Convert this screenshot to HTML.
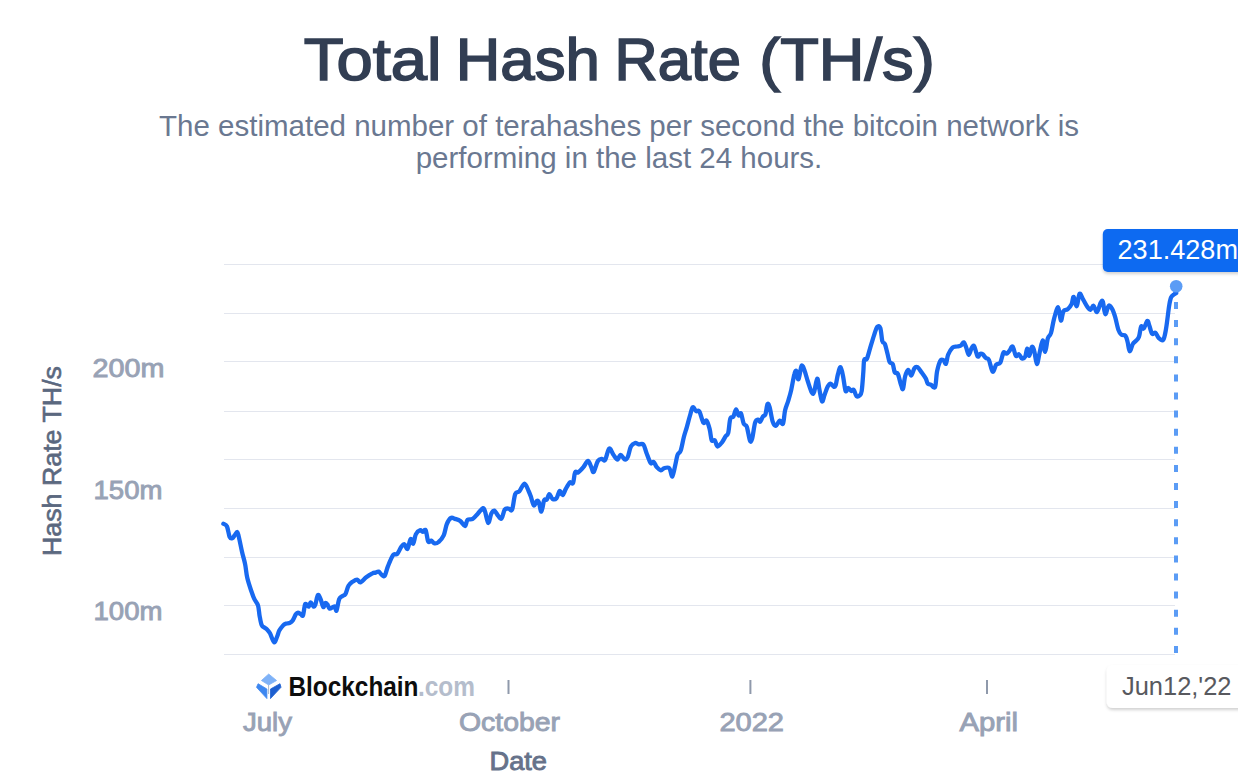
<!DOCTYPE html>
<html><head><meta charset="utf-8">
<style>
html,body{margin:0;padding:0;background:#fff;width:1238px;height:774px;overflow:hidden}
svg{display:block;font-family:"Liberation Sans",sans-serif}
</style></head><body>
<svg width="1238" height="774" viewBox="0 0 1238 774">
<defs>
<filter id="sh" x="-20%" y="-30%" width="140%" height="170%"><feDropShadow dx="0" dy="2" stdDeviation="1.5" flood-color="#000" flood-opacity="0.18"/></filter>
</defs>
<g font-size="60" fill="#323e53" stroke="#323e53" stroke-width="1.6">
<text x="303.8" y="79.8" textLength="137.8" lengthAdjust="spacingAndGlyphs">Total</text>
<text x="455.8" y="79.8" textLength="144" lengthAdjust="spacingAndGlyphs">Hash</text>
<text x="614.6" y="79.8" textLength="126.4" lengthAdjust="spacingAndGlyphs">Rate</text>
<text x="759.2" y="79.8" textLength="175.6" lengthAdjust="spacingAndGlyphs">(TH/s)</text>
</g>
<text x="619" y="135.5" text-anchor="middle" font-size="29.5" fill="#6a7891">The estimated number of terahashes per second the bitcoin network is</text>
<text x="619" y="167.5" text-anchor="middle" font-size="29.5" fill="#6a7891">performing in the last 24 hours.</text>
<g stroke="#e3e6ee" stroke-width="1.2"><line x1="224" y1="264.5" x2="1175" y2="264.5"/><line x1="224" y1="313.5" x2="1175" y2="313.5"/><line x1="224" y1="361.5" x2="1175" y2="361.5"/><line x1="224" y1="411.5" x2="1175" y2="411.5"/><line x1="224" y1="459.5" x2="1175" y2="459.5"/><line x1="224" y1="508.5" x2="1175" y2="508.5"/><line x1="224" y1="557.5" x2="1175" y2="557.5"/><line x1="224" y1="605.5" x2="1175" y2="605.5"/><line x1="224" y1="654.5" x2="1175" y2="654.5"/></g>
<text x="164.5" y="377" font-size="26" fill="#98a2b5" stroke="#98a2b5" stroke-width="0.9" text-anchor="end" textLength="72" lengthAdjust="spacingAndGlyphs">200m</text><text x="162.5" y="498.8" font-size="26" fill="#98a2b5" stroke="#98a2b5" stroke-width="0.9" text-anchor="end" textLength="69" lengthAdjust="spacingAndGlyphs">150m</text><text x="162.5" y="620.3" font-size="26" fill="#98a2b5" stroke="#98a2b5" stroke-width="0.9" text-anchor="end" textLength="69" lengthAdjust="spacingAndGlyphs">100m</text>
<text transform="translate(61,461) rotate(-90)" text-anchor="middle" font-size="25" textLength="190" lengthAdjust="spacingAndGlyphs" fill="#5b687f" stroke="#5b687f" stroke-width="0.6">Hash Rate TH/s</text>
<path d="M223.4,523.8 C224.0,524.2 226.0,524.3 227.0,526.5 C228.0,528.7 228.7,534.8 229.6,536.8 C230.5,538.8 231.4,538.5 232.3,538.2 C233.2,537.9 234.0,536.1 234.8,535.1 C235.6,534.1 236.6,531.6 237.3,532.0 C238.0,532.4 238.1,533.9 238.9,537.2 C239.7,540.5 241.0,547.2 242.0,551.7 C243.0,556.2 244.2,559.8 245.1,564.1 C246.0,568.4 246.2,573.0 247.2,577.5 C248.2,582.0 250.1,587.4 251.3,591.0 C252.5,594.6 253.3,596.8 254.4,599.2 C255.5,601.6 257.1,602.6 258.0,605.4 C258.9,608.2 259.0,612.5 259.6,615.8 C260.2,619.1 260.8,623.1 261.7,625.1 C262.6,627.1 263.9,627.1 264.8,627.8 C265.7,628.5 265.9,628.3 266.8,629.2 C267.7,630.1 268.8,631.1 270.0,633.3 C271.2,635.5 272.9,641.7 274.1,642.2 C275.3,642.7 276.3,638.3 277.2,636.4 C278.1,634.5 278.3,632.5 279.3,630.6 C280.3,628.7 282.3,626.3 283.4,625.1 C284.5,623.9 285.1,624.0 286.1,623.6 C287.1,623.2 288.5,623.5 289.6,623.0 C290.7,622.5 291.7,622.0 292.7,620.5 C293.7,619.0 294.9,615.6 295.8,614.3 C296.7,613.0 297.0,612.7 297.9,612.7 C298.8,612.7 300.1,613.9 301.0,614.3 C301.9,614.7 302.3,616.9 303.0,615.3 C303.7,613.6 304.4,606.0 305.1,604.4 C305.8,602.8 306.6,605.0 307.2,605.4 C307.8,605.8 308.2,607.0 308.8,606.5 C309.4,606.0 309.9,602.3 310.7,602.3 C311.5,602.3 312.6,606.1 313.4,606.5 C314.2,606.9 314.6,606.3 315.4,604.4 C316.1,602.5 317.0,596.0 317.9,595.1 C318.8,594.2 319.7,597.2 320.6,599.2 C321.5,601.2 322.5,606.5 323.3,607.1 C324.1,607.7 324.6,603.5 325.3,603.0 C326.0,602.5 326.7,603.5 327.4,604.4 C328.1,605.3 328.6,608.0 329.5,608.5 C330.4,609.0 332.1,607.4 333.0,607.1 C333.9,606.8 334.5,605.9 335.1,606.5 C335.7,607.1 335.8,611.8 336.5,610.6 C337.2,609.4 338.2,601.6 339.2,599.2 C340.2,596.8 341.3,597.0 342.3,596.1 C343.3,595.2 344.4,595.8 345.4,594.1 C346.4,592.4 347.3,587.9 348.5,585.8 C349.7,583.7 351.2,582.7 352.6,581.7 C354.1,580.7 355.9,579.5 357.2,579.6 C358.5,579.7 359.0,582.7 360.5,582.3 C362.0,581.9 364.2,578.7 366.2,577.2 C368.2,575.7 370.8,574.1 372.4,573.3 C373.9,572.5 374.5,572.9 375.5,572.6 C376.5,572.3 377.6,571.2 378.6,571.6 C379.6,572.0 380.7,574.0 381.7,574.7 C382.7,575.4 383.8,577.1 384.8,575.7 C385.8,574.3 386.5,569.8 387.9,566.4 C389.3,563.0 391.6,557.2 393.1,555.1 C394.7,553.0 395.8,555.4 397.2,554.0 C398.6,552.6 400.1,548.4 401.3,546.8 C402.5,545.2 403.4,543.9 404.4,544.3 C405.4,544.6 406.5,549.8 407.5,548.9 C408.5,548.0 409.6,540.0 410.6,539.1 C411.6,538.2 412.4,544.5 413.3,543.7 C414.2,542.9 414.7,536.6 415.8,534.4 C416.9,532.2 418.8,530.7 420.0,530.3 C421.2,529.9 422.1,531.9 423.0,531.9 C423.9,531.9 424.8,528.7 425.7,530.3 C426.6,531.9 427.3,539.9 428.2,541.6 C429.1,543.3 430.3,540.3 431.3,540.6 C432.3,540.9 433.2,543.1 434.4,543.3 C435.6,543.5 437.1,543.3 438.6,542.0 C440.2,540.7 442.3,538.4 443.7,535.4 C445.1,532.4 445.6,527.0 446.8,524.1 C448.0,521.2 449.6,518.8 451.0,517.9 C452.4,517.0 453.6,518.4 455.1,518.9 C456.7,519.4 458.7,519.8 460.3,521.0 C461.9,522.2 463.8,526.3 465.0,526.1 C466.2,525.9 466.2,521.1 467.5,519.9 C468.8,518.7 471.0,519.9 472.7,518.9 C474.4,517.9 476.1,515.5 477.8,513.7 C479.5,511.9 481.8,508.4 483.0,508.1 C484.2,507.8 484.2,509.2 485.1,511.7 C486.0,514.2 487.2,522.7 488.2,523.0 C489.2,523.3 490.3,515.8 491.3,513.7 C492.3,511.6 493.3,510.3 494.4,510.6 C495.5,510.9 496.9,514.5 498.1,515.8 C499.3,517.1 500.5,519.5 501.6,518.5 C502.7,517.5 503.5,511.2 504.7,509.6 C505.9,508.0 507.6,508.6 508.8,508.6 C510.0,508.6 511.0,512.0 512.1,509.6 C513.2,507.2 514.0,497.1 515.2,494.1 C516.4,491.1 517.8,493.1 519.3,491.4 C520.8,489.7 523.0,483.8 524.5,483.7 C526.0,483.6 527.6,488.9 528.6,491.0 C529.6,493.1 529.8,493.7 530.7,496.1 C531.6,498.5 532.8,504.6 533.8,505.4 C534.8,506.2 536.0,501.4 536.9,500.9 C537.8,500.4 538.1,500.5 538.9,502.3 C539.6,504.1 540.5,511.9 541.4,511.6 C542.3,511.3 543.2,502.3 544.1,500.3 C545.0,498.3 545.9,500.6 546.8,499.6 C547.7,498.6 548.4,494.2 549.3,494.1 C550.2,494.0 551.2,498.1 552.4,498.8 C553.6,499.5 555.3,499.5 556.5,498.2 C557.7,496.9 558.6,491.5 559.6,491.0 C560.6,490.5 561.7,495.5 562.7,495.1 C563.7,494.8 564.6,491.0 565.8,488.9 C567.0,486.8 568.7,483.3 569.9,482.3 C571.1,481.3 572.1,484.8 573.0,483.1 C573.9,481.5 574.2,474.2 575.1,472.4 C576.0,470.6 576.8,473.3 578.2,472.4 C579.6,471.5 581.8,469.1 583.4,467.2 C585.0,465.3 586.7,460.8 588.1,461.0 C589.5,461.2 590.8,466.4 591.7,468.2 C592.6,470.0 592.7,473.1 593.7,471.9 C594.7,470.7 596.5,463.2 597.9,461.0 C599.3,458.8 600.8,459.1 602.0,458.9 C603.2,458.7 603.9,461.7 605.1,460.0 C606.3,458.3 607.8,449.5 609.2,448.6 C610.6,447.7 612.0,453.0 613.4,454.8 C614.8,456.6 616.3,459.5 617.5,459.5 C618.7,459.5 619.4,454.8 620.6,454.8 C621.8,454.8 623.5,459.2 624.7,459.5 C625.9,459.8 626.8,459.0 627.8,456.8 C628.8,454.6 629.7,448.8 630.9,446.5 C632.1,444.2 633.8,443.4 635.1,443.0 C636.4,442.6 637.2,444.2 638.6,444.4 C640.0,444.6 642.0,443.0 643.3,444.4 C644.6,445.8 645.2,449.6 646.4,452.7 C647.6,455.8 649.4,461.4 650.6,463.0 C651.8,464.6 652.7,461.3 653.7,462.0 C654.7,462.7 655.6,465.8 656.8,467.2 C658.0,468.6 659.7,470.1 660.9,470.3 C662.1,470.5 662.7,468.6 664.1,468.2 C665.5,467.8 667.9,466.8 669.3,468.2 C670.7,469.6 671.4,477.1 672.4,476.4 C673.4,475.7 674.6,467.6 675.5,464.0 C676.4,460.4 676.7,456.9 677.6,454.7 C678.5,452.5 679.7,453.5 680.7,450.6 C681.7,447.7 682.8,441.2 683.8,437.2 C684.8,433.2 685.9,430.4 686.9,426.8 C687.9,423.2 689.0,418.8 690.0,415.5 C691.0,412.2 691.7,407.9 692.7,407.2 C693.7,406.5 695.1,410.6 696.2,411.3 C697.3,412.0 698.1,409.4 699.3,411.3 C700.5,413.2 702.2,421.1 703.4,422.7 C704.6,424.2 705.5,419.6 706.5,420.6 C707.5,421.6 708.7,425.6 709.6,428.9 C710.5,432.2 710.8,438.4 711.7,440.3 C712.6,442.2 713.8,439.3 714.8,440.3 C715.8,441.3 716.3,446.2 717.5,446.5 C718.7,446.8 720.6,444.0 722.0,442.3 C723.4,440.6 724.7,437.7 725.7,436.1 C726.7,434.6 727.4,435.9 728.2,433.0 C729.0,430.1 729.4,421.4 730.3,418.6 C731.2,415.9 732.4,418.1 733.4,416.5 C734.4,414.9 735.2,409.5 736.1,409.3 C737.0,409.1 737.8,414.8 738.6,415.5 C739.4,416.2 740.1,412.0 741.0,413.4 C741.9,414.8 742.7,421.5 743.7,423.7 C744.7,425.9 745.8,424.0 746.8,426.8 C747.8,429.6 749.0,438.2 749.9,440.3 C750.8,442.4 751.1,442.1 752.0,439.2 C752.9,436.3 754.1,426.0 755.1,422.7 C756.1,419.4 757.3,419.8 758.2,419.6 C759.1,419.4 759.5,422.2 760.3,421.7 C761.1,421.2 762.0,417.7 762.9,416.5 C763.8,415.3 764.6,416.5 765.4,414.4 C766.2,412.3 766.8,405.3 767.5,404.1 C768.2,402.9 768.7,404.3 769.6,407.2 C770.5,410.1 771.7,418.6 772.7,421.7 C773.7,424.8 774.6,426.0 775.8,425.8 C777.0,425.6 778.7,421.0 779.9,420.6 C781.1,420.2 782.1,425.4 783.0,423.7 C783.9,422.0 784.2,414.1 785.1,410.3 C786.0,406.5 787.2,404.4 788.2,401.0 C789.2,397.6 790.3,394.1 791.3,389.6 C792.3,385.1 793.5,377.2 794.4,374.1 C795.2,371.0 795.7,370.1 796.4,371.0 C797.1,371.9 797.6,380.2 798.5,379.3 C799.4,378.4 800.6,367.2 801.6,365.8 C802.6,364.4 803.7,368.4 804.7,371.0 C805.7,373.6 806.6,377.7 807.8,381.3 C809.0,384.9 810.8,390.9 811.9,392.7 C813.0,394.5 813.2,394.4 814.1,392.0 C815.0,389.6 816.3,379.1 817.2,378.6 C818.1,378.1 818.5,385.1 819.3,388.9 C820.1,392.7 821.1,400.3 822.0,401.3 C822.9,402.3 823.6,397.5 824.5,395.1 C825.4,392.7 826.6,388.7 827.6,386.8 C828.6,384.9 829.7,383.7 830.7,383.7 C831.7,383.7 832.9,386.6 833.8,386.8 C834.6,387.0 835.1,386.9 835.8,384.8 C836.5,382.7 837.1,377.3 837.9,374.4 C838.7,371.5 839.7,366.8 840.6,367.2 C841.5,367.6 842.3,372.5 843.1,376.5 C843.9,380.5 844.8,389.1 845.6,391.0 C846.5,392.9 847.2,387.9 848.2,387.9 C849.2,387.9 850.4,390.7 851.3,391.0 C852.2,391.3 852.9,389.0 853.8,389.9 C854.7,390.8 855.5,395.2 856.5,396.1 C857.5,397.0 858.7,396.4 859.6,395.5 C860.5,394.6 861.1,394.9 861.7,391.0 C862.3,387.1 862.9,377.6 863.3,372.4 C863.7,367.2 863.6,362.2 864.2,360.0 C864.8,357.8 865.8,360.8 866.8,358.9 C867.8,357.0 868.8,352.6 870.0,348.6 C871.2,344.6 872.9,338.7 874.1,335.1 C875.3,331.5 876.2,328.1 877.2,326.9 C878.2,325.7 879.4,325.5 880.3,327.9 C881.2,330.3 881.6,338.6 882.4,341.3 C883.1,344.0 883.9,341.7 884.8,343.8 C885.6,345.9 886.7,350.7 887.5,353.7 C888.3,356.7 888.7,360.3 889.6,362.0 C890.5,363.7 891.8,362.4 892.7,364.1 C893.6,365.8 893.9,370.8 894.8,372.4 C895.7,374.0 896.9,371.9 897.9,374.0 C898.9,376.1 900.1,382.3 901.0,384.8 C901.9,387.3 902.3,390.3 903.0,388.9 C903.7,387.5 904.2,379.7 905.1,376.5 C906.0,373.3 907.2,370.1 908.2,369.9 C909.2,369.7 910.3,375.8 911.3,375.5 C912.3,375.2 913.4,369.6 914.4,368.2 C915.4,366.8 916.3,366.5 917.5,367.2 C918.7,367.9 920.2,370.5 921.6,372.4 C923.0,374.3 924.8,376.7 925.8,378.6 C926.8,380.5 926.9,382.7 927.8,383.7 C928.6,384.7 929.7,384.3 930.9,384.8 C932.1,385.3 934.1,389.1 935.1,386.8 C936.1,384.6 936.2,375.6 937.1,371.3 C938.0,367.0 939.2,362.9 940.2,361.0 C941.2,359.1 942.3,359.6 943.3,360.0 C944.3,360.4 945.2,364.6 946.0,363.7 C946.8,362.8 947.0,357.5 948.1,354.8 C949.2,352.1 951.2,348.9 952.6,347.5 C954.0,346.1 955.4,346.8 956.8,346.5 C958.2,346.2 959.8,346.2 960.9,345.5 C962.0,344.8 962.8,342.1 963.7,342.4 C964.6,342.7 965.4,345.4 966.2,347.5 C967.0,349.6 967.8,354.6 968.7,354.8 C969.6,355.0 970.5,350.1 971.4,348.6 C972.3,347.2 973.1,344.8 974.1,346.1 C975.1,347.4 976.6,355.1 977.6,356.4 C978.6,357.7 979.4,354.0 980.3,353.7 C981.1,353.4 981.8,353.6 982.7,354.3 C983.6,355.0 984.8,357.0 985.8,357.9 C986.8,358.8 987.8,357.6 988.9,359.9 C990.0,362.2 991.5,370.9 992.7,371.7 C993.9,372.5 994.9,366.2 996.2,364.7 C997.5,363.2 999.1,364.6 1000.3,362.6 C1001.5,360.6 1002.4,354.2 1003.4,352.7 C1004.4,351.2 1005.5,354.0 1006.5,353.7 C1007.5,353.4 1008.6,351.8 1009.6,350.6 C1010.6,349.4 1011.7,345.6 1012.7,346.5 C1013.7,347.4 1014.8,354.5 1015.8,355.8 C1016.8,357.1 1017.9,353.9 1018.9,354.3 C1019.9,354.8 1021.0,358.1 1022.0,358.5 C1023.0,358.9 1024.2,358.4 1025.1,356.8 C1026.0,355.2 1026.5,348.8 1027.2,348.6 C1027.9,348.4 1028.5,356.1 1029.3,355.8 C1030.1,355.5 1031.1,347.6 1031.9,346.9 C1032.8,346.2 1033.6,348.8 1034.4,351.7 C1035.2,354.6 1036.0,363.9 1036.9,364.1 C1037.8,364.3 1038.6,356.7 1039.6,352.7 C1040.6,348.7 1041.8,340.5 1042.7,340.3 C1043.6,340.1 1044.3,352.1 1045.2,351.7 C1046.1,351.3 1046.9,341.3 1047.9,338.2 C1048.9,335.1 1050.0,336.3 1051.0,333.0 C1052.0,329.7 1052.9,322.9 1054.1,318.6 C1055.3,314.3 1057.1,306.9 1058.2,307.2 C1059.3,307.5 1060.0,319.9 1060.9,320.6 C1061.8,321.3 1062.3,313.2 1063.4,311.3 C1064.5,309.4 1066.1,310.5 1067.5,309.3 C1068.9,308.1 1070.6,306.2 1071.6,304.1 C1072.6,302.0 1072.8,296.5 1073.7,296.9 C1074.6,297.2 1075.8,306.7 1076.8,306.2 C1077.8,305.7 1078.4,294.9 1079.5,293.8 C1080.6,292.7 1081.9,297.4 1083.2,299.6 C1084.5,301.8 1086.1,305.1 1087.3,306.8 C1088.5,308.5 1089.4,310.1 1090.4,309.9 C1091.4,309.7 1092.4,305.4 1093.5,305.8 C1094.6,306.2 1095.8,312.5 1097.0,312.0 C1098.2,311.5 1099.7,304.4 1100.7,302.7 C1101.7,301.0 1102.0,299.8 1102.8,301.7 C1103.6,303.6 1104.3,313.4 1105.3,314.1 C1106.3,314.8 1107.5,306.7 1108.6,305.8 C1109.7,304.9 1111.0,307.0 1112.1,308.9 C1113.2,310.8 1114.2,313.8 1115.2,317.2 C1116.2,320.6 1117.3,326.7 1118.3,329.6 C1119.3,332.5 1120.2,333.7 1121.4,334.7 C1122.6,335.7 1124.5,334.6 1125.5,335.8 C1126.5,337.0 1126.9,339.4 1127.6,342.0 C1128.3,344.6 1128.8,351.0 1129.7,351.3 C1130.6,351.6 1131.8,345.7 1132.8,344.0 C1133.8,342.3 1134.9,342.1 1135.9,340.9 C1136.9,339.7 1138.1,339.2 1139.0,336.8 C1139.9,334.4 1140.3,327.9 1141.1,326.5 C1141.9,325.1 1142.7,329.4 1143.7,328.5 C1144.7,327.6 1146.4,321.4 1147.3,320.9 C1148.2,320.4 1148.5,323.3 1149.3,325.4 C1150.1,327.5 1151.0,332.5 1152.0,333.7 C1153.0,334.9 1154.4,332.0 1155.5,332.7 C1156.6,333.4 1157.3,336.6 1158.6,337.8 C1159.9,339.0 1162.0,341.3 1163.2,339.9 C1164.4,338.5 1164.9,335.1 1165.9,329.6 C1166.9,324.1 1168.2,312.2 1169.0,306.8 C1169.8,301.4 1170.2,299.6 1171.0,297.5 C1171.8,295.4 1173.2,295.1 1174.1,294.4 C1175.0,293.6 1175.8,293.2 1176.2,293.0" fill="none" stroke="#1869f0" stroke-width="4.3" stroke-linejoin="round" stroke-linecap="round"/>
<line x1="1176" y1="302" x2="1176" y2="654" stroke="#5b9cf5" stroke-width="4" stroke-dasharray="7 11.1"/>
<circle cx="1176.2" cy="286.2" r="6.3" fill="#5b9cf5"/>
<g filter="url(#sh)"><rect x="1102.8" y="229" width="160" height="43" rx="5" fill="#116bf1"/></g>
<text x="1117.5" y="258.8" font-size="27" fill="#fff" textLength="120.5" lengthAdjust="spacingAndGlyphs">231.428m</text>
<g stroke="#8f99ab" stroke-width="2"><line x1="508.5" y1="680" x2="508.5" y2="694"/><line x1="750.4" y1="680" x2="750.4" y2="694"/><line x1="987" y1="680" x2="987" y2="694"/></g>
<text x="243" y="730.7" font-size="26" fill="#98a2b5" stroke="#98a2b5" stroke-width="0.9" text-anchor="start" textLength="49" lengthAdjust="spacingAndGlyphs">July</text><text x="459" y="730.7" font-size="26" fill="#98a2b5" stroke="#98a2b5" stroke-width="0.9" text-anchor="start" textLength="101" lengthAdjust="spacingAndGlyphs">October</text><text x="719.5" y="730.7" font-size="26" fill="#98a2b5" stroke="#98a2b5" stroke-width="0.9" text-anchor="start" textLength="64.5" lengthAdjust="spacingAndGlyphs">2022</text><text x="959.5" y="730.7" font-size="26" fill="#98a2b5" stroke="#98a2b5" stroke-width="0.9" text-anchor="start" textLength="58.5" lengthAdjust="spacingAndGlyphs">April</text><text x="489.5" y="769.5" font-size="26" fill="#66728a" stroke="#66728a" stroke-width="0.9" text-anchor="start" textLength="57.5" lengthAdjust="spacingAndGlyphs">Date</text>
<path d="M268.7,674 L276.6,680.5 L268.7,685 L261.4,680.5 Z" fill="#7fb2f7" stroke="#7fb2f7" stroke-width="0.8" stroke-linejoin="round"/>
<line x1="268.6" y1="685" x2="268.6" y2="694" stroke="#9fb0c8" stroke-width="0.9"/>
<path d="M258.1,683.7 L266.9,689 L266.9,698.6 L256.5,687.3 Z" fill="#3d87f0" stroke="#3d87f0" stroke-width="0.8" stroke-linejoin="round"/>
<path d="M280,683.7 L270.5,689 L270.5,698.6 L281,687.3 Z" fill="#1d5fd0" stroke="#1d5fd0" stroke-width="0.8" stroke-linejoin="round"/>
<text x="288.5" y="696" font-size="27" font-weight="700" fill="#0d0d0d" textLength="130" lengthAdjust="spacingAndGlyphs">Blockchain</text>
<text x="418" y="696" font-size="27" font-weight="700" fill="#b5bdcc" textLength="57" lengthAdjust="spacingAndGlyphs">.com</text>
<g filter="url(#sh)"><rect x="1106.7" y="665" width="160" height="43" rx="6" fill="#fff"/></g>
<text x="1122" y="695" font-size="26.5" fill="#58595e" textLength="109.5" lengthAdjust="spacingAndGlyphs">Jun12,'22</text>
</svg>
</body></html>
